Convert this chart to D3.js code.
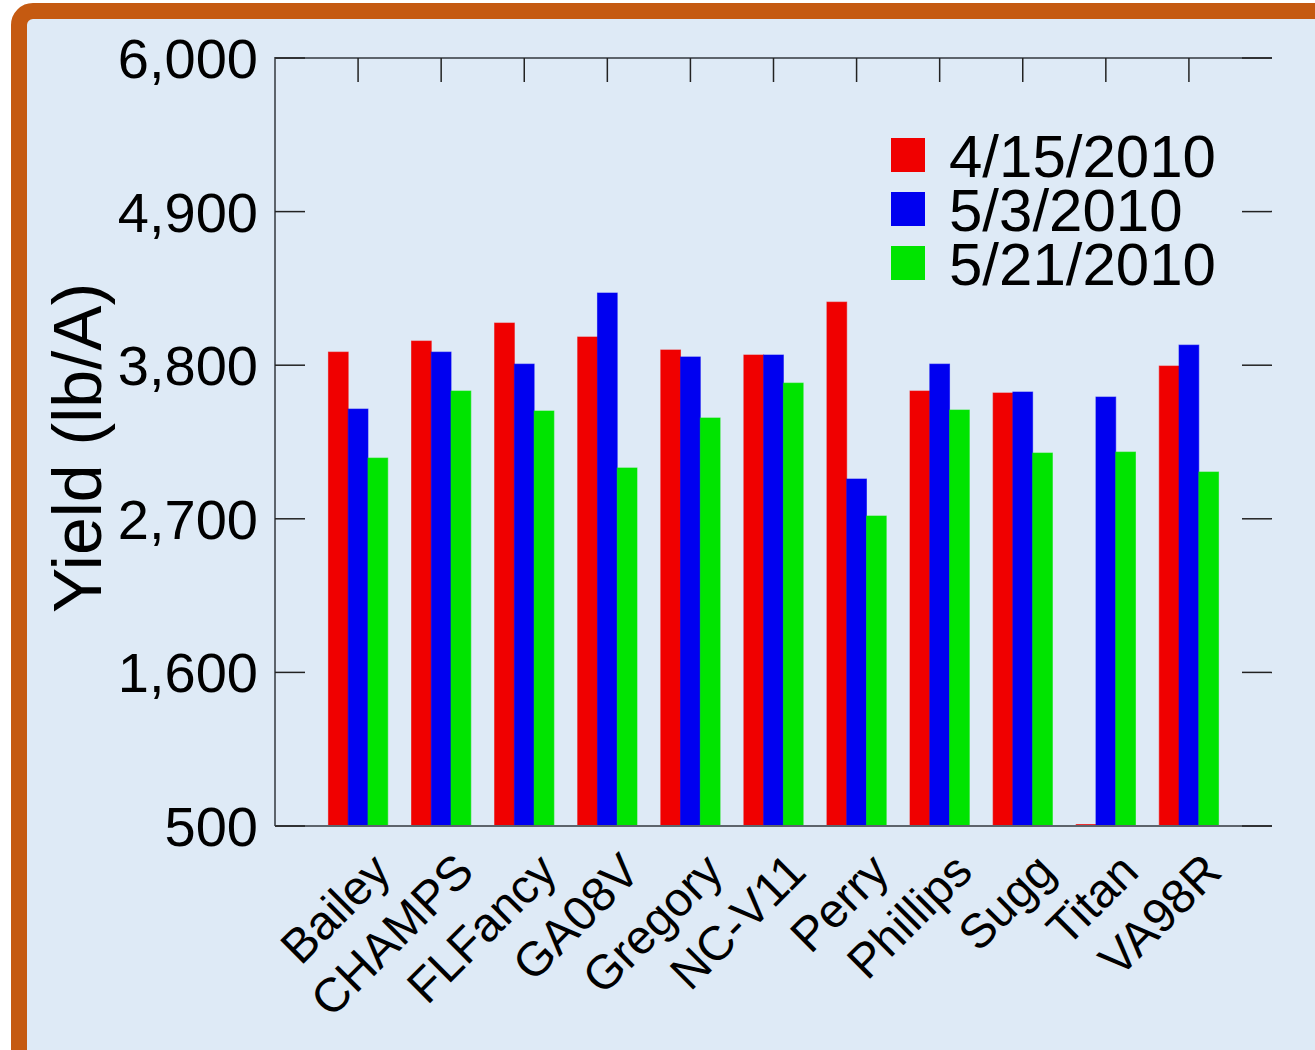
<!DOCTYPE html>
<meta charset="utf-8">
<style>
    body { margin: 0; background: #fff; }
    svg text { font-family: "Liberation Sans", Arial, sans-serif; fill: #000; }
    .axis-line { stroke: #5d646c; stroke-width: 2; fill: none; }
    .tick line { stroke: #222; stroke-width: 1.5; }
</style>
<body>
<svg id="chart" width="1315" height="1050"></svg>
</body>
<script src="https://d3js.org/d3.v7.min.js"></script>
<script>

    // cultivars along the x axis
    var cultivars = ["Bailey", "CHAMPS", "FLFancy", "GA08V", "Gregory", "NC-V11",
        "Perry", "Phillips", "Sugg", "Titan", "VA98R"];

    // planting dates (series)
    var dates = ["4/15/2010", "5/3/2010", "5/21/2010"];
    var colors = ["#f00000", "#0000f0", "#00e400"];

    // yield lb/A per cultivar, one array per planting date
    var yield0415 = [3894, 3973, 4102, 4002, 3909, 3873, 4252, 3615, 3601, 0, 3794];
    var yield0503 = [3486, 3894, 3808, 4317, 3859, 3873, 2985, 3808, 3608, 3572, 3944];
    var yield0521 = [3135, 3615, 3472, 3064, 3422, 3672, 2720, 3479, 3171, 3178, 3035];

    var yTicks = [500, 1600, 2700, 3800, 4900, 6000];

    var series = [yield0415, yield0503, yield0521];

    var svg = d3.select("#chart");

    // frame
    svg.append("rect")
        .attr("x", 19).attr("y", 11)
        .attr("width", 1400).attr("height", 1100)
        .attr("rx", 14)
        .attr("fill", "#deeaf6")
        .attr("stroke", "#c55a11")
        .attr("stroke-width", 16);

    var pLeft = 275, pRight = 1272, pTop = 58, pBottom = 826;

    var x = d3.scalePoint().domain(cultivars).range([pLeft, pRight]).padding(1);
    var groupW = x.step() * 0.714;
    var xs = d3.scaleBand().domain(d3.range(dates.length)).range([-groupW / 2, groupW / 2]);
    var y = d3.scaleLinear().domain([500, 6000]).range([pBottom, pTop]).clamp(true);

    function barH(d) { return Math.max(pBottom - y(d), 1.5); }

    // bottom ticks (behind bars)
    svg.append("g").attr("class", "tick")
        .selectAll("line").data(cultivars).join("line")
        .attr("x1", function (d) { return x(d); }).attr("x2", function (d) { return x(d); })
        .attr("y1", pBottom).attr("y2", pBottom - 24);

    // bars
    series.forEach(function (vals, s) {
        svg.append("g")
            .selectAll("rect").data(vals).join("rect")
            .attr("x", function (d, i) { return x(cultivars[i]) + xs(s); })
            .attr("y", function (d) { return pBottom - barH(d); })
            .attr("width", xs.bandwidth())
            .attr("height", barH)
            .attr("fill", colors[s])
            .attr("stroke", colors[s])
            .attr("stroke-opacity", 0.6)
            .attr("stroke-width", 1);
    });

    // frame lines: left, top, bottom (no right line)
    svg.append("path").attr("class", "axis-line")
        .attr("d", "M" + pLeft + "," + pBottom + "V" + pTop + "H" + pRight);
    svg.append("path").attr("class", "axis-line")
        .attr("d", "M" + pLeft + "," + pBottom + "H" + pRight);

    // y ticks, left and right, pointing inward
    var yt = svg.append("g").attr("class", "tick");
    yt.selectAll("line.l").data(yTicks).join("line").attr("class", "l")
        .attr("x1", pLeft).attr("x2", pLeft + 30)
        .attr("y1", function (d) { return y(d); }).attr("y2", function (d) { return y(d); });
    yt.selectAll("line.r").data(yTicks).join("line").attr("class", "r")
        .attr("x1", pRight - 30).attr("x2", pRight)
        .attr("y1", function (d) { return y(d); }).attr("y2", function (d) { return y(d); });

    // top ticks at cultivar positions
    svg.append("g").attr("class", "tick")
        .selectAll("line").data(cultivars).join("line")
        .attr("x1", function (d) { return x(d); }).attr("x2", function (d) { return x(d); })
        .attr("y1", pTop).attr("y2", pTop + 24);

    // y tick labels
    svg.append("g").selectAll("text").data(yTicks).join("text")
        .attr("x", pLeft - 17)
        .attr("y", function (d) { return y(d) + 20; })
        .attr("text-anchor", "end")
        .attr("font-size", 56)
        .text(d3.format(","));

    // y title
    svg.append("text")
        .attr("transform", "translate(101,448) rotate(-90)")
        .attr("text-anchor", "middle")
        .attr("font-size", 68)
        .text("Yield (lb/A)");

    // x labels
    svg.append("g").selectAll("text").data(cultivars).join("text")
        .attr("transform", function (d) {
            return "translate(" + (x(d) + 35) + "," + (pBottom + 48) + ") rotate(-45)";
        })
        .attr("text-anchor", "end")
        .attr("font-size", 48)
        .text(function (d) { return d; });

    // legend
    var lg = svg.append("g").selectAll("g").data(dates).join("g")
        .attr("transform", function (d, i) { return "translate(891," + (138 + i * 54) + ")"; });
    lg.append("rect")
        .attr("width", 34).attr("height", 34)
        .attr("fill", function (d, i) { return colors[i]; });
    lg.append("text")
        .attr("x", 58).attr("y", 39)
        .attr("font-size", 60)
        .text(function (d) { return d; });

</script>
